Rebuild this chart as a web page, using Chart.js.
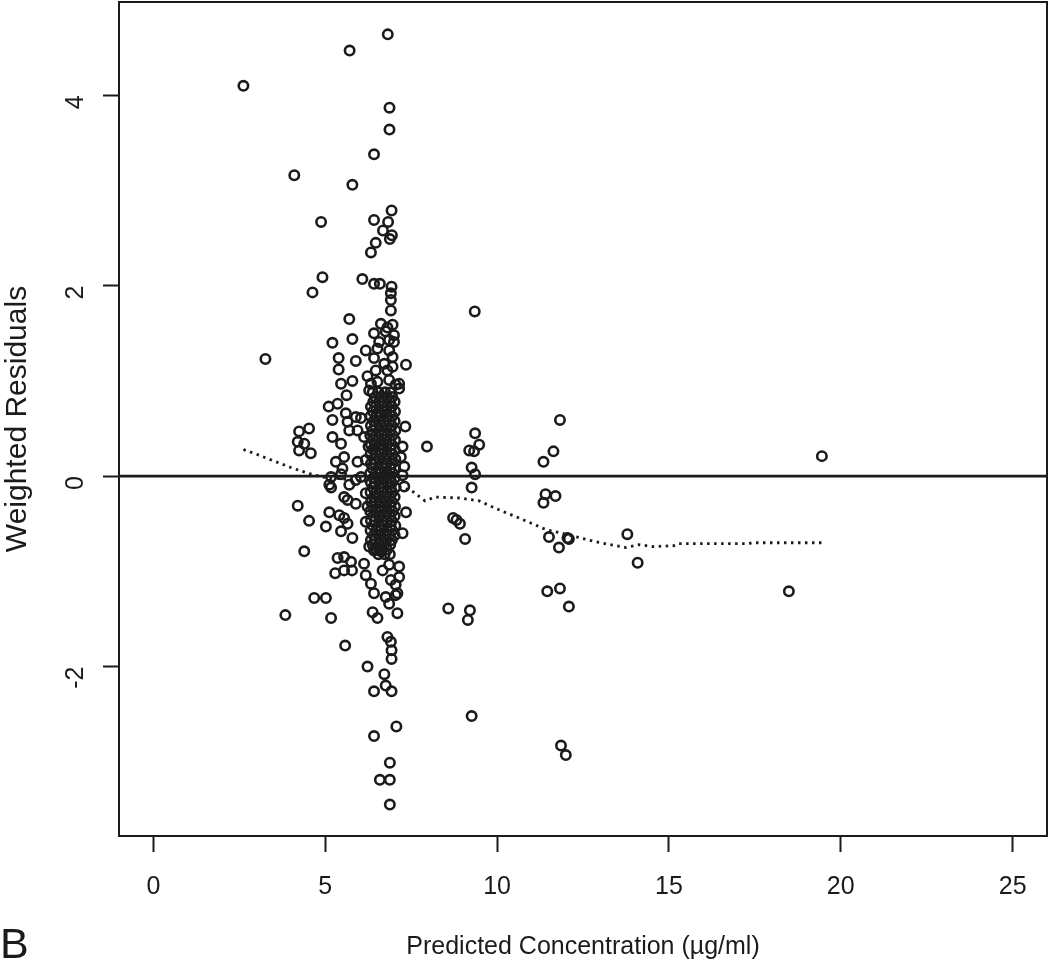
<!DOCTYPE html>
<html>
<head>
<meta charset="utf-8">
<script src="https://cdn.jsdelivr.net/npm/chart.js@4.4.1/dist/chart.umd.min.js"></script>
<style>
  html, body { margin: 0; padding: 0; background: #fff; }
  #wrap { width: 1050px; height: 966px; position: relative; }
</style>
</head>
<body>
<div id="wrap"><canvas id="c" width="1050" height="966"></canvas></div>
<script>
// ---- Data ----
const xTickValues = [0, 5, 10, 15, 20, 25];
const yTickValues = [-2, 0, 2, 4];
const xTitle = 'Predicted Concentration (µg/ml)';
const yTitle = 'Weighted Residuals';
const panelLabel = 'B';

// points above ~1
const upperPoints = [
  [6.82,4.64],[5.71,4.47],[2.62,4.10],[6.87,3.87],[6.87,3.64],[6.42,3.38],[4.10,3.16],[5.79,3.06],
  [6.93,2.79],[4.88,2.67],[6.42,2.69],[6.83,2.67],[6.68,2.58],[6.94,2.53],[6.88,2.49],[6.47,2.45],
  [6.33,2.35],[4.92,2.09],[6.08,2.07],[4.63,1.93],[6.42,2.02],[6.59,2.02],[6.93,1.99],[6.91,1.92],
  [6.91,1.85],[6.91,1.74],[9.35,1.73],[5.70,1.65],[6.62,1.60],[6.81,1.56],[6.96,1.59],[6.42,1.50],
  [6.76,1.52],[7.00,1.48],[5.21,1.40],[5.79,1.44],[6.57,1.41],[6.86,1.43],[7.00,1.41],[6.18,1.32],
  [6.52,1.34],[6.86,1.32],[3.26,1.23],[5.39,1.24],[5.89,1.21],[6.42,1.24],[6.96,1.25],[6.72,1.18],
  [5.39,1.12],[7.35,1.17],[6.23,1.05],[6.47,1.11],[6.81,1.11],[6.96,1.15]
];
// points between about -1 and 1 around the main column
const midPoints = [
  [5.46,0.97],[5.79,1.00],[6.33,0.97],[6.52,0.99],[6.86,1.01],[7.05,0.96],[7.15,0.97],[5.62,0.85],
  [6.28,0.90],[7.15,0.92],[5.10,0.73],[5.36,0.76],[5.21,0.59],[5.60,0.66],[5.89,0.62],[6.04,0.61],
  [5.65,0.57],[5.70,0.48],[5.94,0.48],[7.33,0.52],[4.24,0.47],[4.53,0.50],[5.21,0.41],[5.46,0.34],
  [4.20,0.36],[4.39,0.34],[4.24,0.27],[4.58,0.24],[7.96,0.31],[5.31,0.15],[5.55,0.20],[5.94,0.15],
  [7.25,0.31],[7.20,0.20],[7.30,0.10],[6.13,0.41],[6.26,0.31],[6.18,0.17],[5.50,0.08],[5.17,-0.01],
  [5.12,-0.09],[5.17,-0.12],[5.46,0.02],[5.70,-0.09],[5.89,-0.04],[6.04,-0.01],[7.25,0.01],[7.30,-0.11],
  [6.18,-0.18],[6.23,-0.32],[6.18,-0.48],[4.20,-0.31],[4.53,-0.47],[5.02,-0.53],[5.12,-0.38],[5.41,-0.41],
  [5.55,-0.22],[5.65,-0.25],[5.89,-0.29],[5.55,-0.44],[5.65,-0.50],[5.46,-0.58],[5.79,-0.65],[7.35,-0.38],
  [7.25,-0.60],[4.39,-0.79],[5.36,-0.86],[5.55,-0.85],[5.75,-0.90],[5.29,-1.02],[5.55,-0.99],[5.78,-0.99],
  [6.13,-0.92],[6.18,-1.04],[6.33,-1.13],[6.28,-0.74],[6.42,-0.78],[6.62,-0.79],[6.86,-0.93],[7.15,-0.95],
  [7.15,-1.06],[6.91,-1.09],[7.05,-1.14],[6.67,-0.99]
];
// dense column: each row = [residual, concentrations...]
const coreRows = [
  [0.88, 6.38, 6.55, 6.74, 6.90],
  [0.83, 6.46, 6.63, 6.80, 6.95],
  [0.78, 6.40, 6.57, 6.72, 6.88, 7.02],
  [0.73, 6.33, 6.47, 6.64, 6.79, 6.94],
  [0.68, 6.39, 6.56, 6.73, 6.89, 7.03],
  [0.63, 6.32, 6.48, 6.62, 6.80, 6.95],
  [0.58, 6.41, 6.55, 6.71, 6.87, 7.02],
  [0.53, 6.33, 6.46, 6.63, 6.78, 6.94],
  [0.48, 6.38, 6.57, 6.72, 6.89, 7.04],
  [0.43, 6.31, 6.47, 6.64, 6.80, 6.96],
  [0.38, 6.40, 6.55, 6.73, 6.88, 7.03],
  [0.33, 6.33, 6.45, 6.62, 6.79, 6.94],
  [0.28, 6.39, 6.56, 6.71, 6.90, 7.02],
  [0.23, 6.32, 6.48, 6.63, 6.80, 6.95],
  [0.18, 6.41, 6.57, 6.73, 6.87, 7.04],
  [0.13, 6.33, 6.46, 6.64, 6.78, 6.94],
  [0.08, 6.38, 6.55, 6.72, 6.89, 7.02],
  [0.03, 6.31, 6.47, 6.62, 6.80, 6.96],
  [-0.02, 6.40, 6.56, 6.73, 6.88, 7.03],
  [-0.07, 6.33, 6.45, 6.63, 6.79, 6.94],
  [-0.12, 6.39, 6.57, 6.71, 6.90, 7.04],
  [-0.17, 6.32, 6.48, 6.64, 6.80, 6.95],
  [-0.22, 6.41, 6.55, 6.73, 6.87, 7.02],
  [-0.27, 6.33, 6.46, 6.62, 6.78, 6.94],
  [-0.32, 6.38, 6.56, 6.72, 6.89, 7.03],
  [-0.37, 6.31, 6.47, 6.63, 6.80, 6.96],
  [-0.42, 6.40, 6.57, 6.73, 6.88, 7.02],
  [-0.47, 6.33, 6.45, 6.64, 6.79, 6.94],
  [-0.52, 6.39, 6.55, 6.71, 6.90, 7.04],
  [-0.57, 6.32, 6.48, 6.62, 6.80, 6.95],
  [-0.62, 6.41, 6.56, 6.73, 6.87, 7.02],
  [-0.67, 6.33, 6.46, 6.63, 6.78, 6.94],
  [-0.72, 6.38, 6.57, 6.72, 6.89],
  [-0.77, 6.47, 6.64, 6.80],
  [-0.82, 6.55, 6.73, 6.88]
];
// points below about -1.1
const lowerPoints = [
  [6.42,-1.23],[6.76,-1.27],[7.05,-1.25],[6.86,-1.34],[7.10,-1.23],[4.68,-1.28],[5.02,-1.28],[3.84,-1.46],
  [5.17,-1.49],[6.38,-1.43],[6.52,-1.49],[7.10,-1.44],[5.58,-1.78],[6.81,-1.69],[6.91,-1.74],[6.93,-1.83],
  [6.93,-1.92],[6.23,-2.00],[6.72,-2.08],[6.42,-2.26],[6.76,-2.20],[6.93,-2.26],[7.07,-2.63],[6.42,-2.73],
  [6.88,-3.01],[6.59,-3.19],[6.88,-3.19],[6.88,-3.45]
];
// points at higher concentrations
const rightPoints = [
  [9.36,0.45],[9.48,0.33],[9.19,0.27],[9.33,0.26],[9.26,0.09],[9.36,0.02],[9.26,-0.12],[11.83,0.59],
  [11.64,0.26],[11.35,0.15],[11.41,-0.19],[11.70,-0.21],[11.35,-0.28],[8.72,-0.44],[8.82,-0.46],[8.92,-0.50],
  [9.07,-0.66],[11.51,-0.64],[12.05,-0.65],[12.09,-0.66],[11.80,-0.75],[13.79,-0.61],[14.09,-0.91],[11.46,-1.21],
  [11.83,-1.18],[12.09,-1.37],[8.58,-1.39],[9.21,-1.41],[9.15,-1.51],[9.26,-2.52],[11.86,-2.83],[12.00,-2.93],
  [19.45,0.21],[18.49,-1.21]
];
// smoother (dotted line)
const smoothX = [2.62, 3.0, 3.5, 4.0, 4.5, 4.92, 5.5, 6.0, 6.5, 7.0, 7.5, 7.9, 8.2, 8.9, 9.48, 9.96, 10.64, 11.41, 12.0, 12.87, 13.74, 14.13, 14.52, 15.2, 15.29, 16.3, 17.33, 17.42, 18.5, 19.46];
const smoothY = [0.28, 0.23, 0.16, 0.09, 0.03, -0.01, -0.03, -0.05, -0.07, -0.10, -0.15, -0.26, -0.22, -0.23, -0.26, -0.34, -0.44, -0.56, -0.61, -0.69, -0.75, -0.72, -0.74, -0.73, -0.71, -0.71, -0.71, -0.70, -0.70, -0.70];
// reference line
const refLineY = 0;
const xRange = [-1, 26];
const yRange = [-3.78, 4.98];

// ---- Build datasets ----
const toXY = arr => arr.map(p => ({ x: p[0], y: p[1] }));
const corePts = [];
coreRows.forEach(r => { for (let i = 1; i < r.length; i++) corePts.push({ x: r[i], y: r[0] }); });
const allPts = [].concat(toXY(upperPoints), toXY(midPoints), corePts, toXY(lowerPoints), toXY(rightPoints));
const smoothPts = smoothX.map((x, i) => ({ x: x, y: smoothY[i] }));

const FONT = "'Liberation Sans', Arial, Helvetica, sans-serif";
const INK = '#1b1b1b';

const boxPlugin = {
  id: 'boxAndLabel',
  afterDraw(chart) {
    const { ctx, chartArea: a } = chart;
    ctx.save();
    ctx.strokeStyle = INK;
    ctx.lineWidth = 2;
    ctx.strokeRect(a.left, a.top, a.right - a.left, a.bottom - a.top);
    ctx.fillStyle = INK;
    ctx.font = '43px ' + FONT;
    ctx.textBaseline = 'alphabetic';
    ctx.textAlign = 'left';
    ctx.fillText(panelLabel, 0, 958);
    ctx.restore();
  }
};

new Chart(document.getElementById('c'), {
  type: 'scatter',
  data: {
    datasets: [
      {
        label: 'reference', type: 'line', data: [{ x: xRange[0], y: refLineY }, { x: xRange[1], y: refLineY }],
        borderColor: INK, borderWidth: 2.6, pointRadius: 0, order: 0
      },
      {
        label: 'smooth', type: 'line', data: smoothPts, borderColor: INK, borderWidth: 2.8,
        borderDash: [2.5, 4.5], pointRadius: 0, tension: 0, order: 0
      },
      {
        label: 'residuals', data: allPts, pointStyle: 'circle', pointRadius: 4.7,
        borderColor: INK, borderWidth: 2.6, backgroundColor: 'rgba(0,0,0,0)', order: 1
      }
    ]
  },
  options: {
    responsive: false,
    animation: false,
    events: [],
    layout: { autoPadding: false, padding: { top: 2, right: 3, left: 0, bottom: 0 } },
    plugins: { legend: { display: false }, tooltip: { enabled: false } },
    scales: {
      x: {
        type: 'linear', min: xRange[0], max: xRange[1],
        afterBuildTicks: s => { s.ticks = xTickValues.map(v => ({ value: v })); },
        afterFit: s => { s.height = 130; s.paddingLeft = 0; s.paddingRight = 0; },
        grid: { display: true, drawOnChartArea: false, drawTicks: true, tickLength: 16, tickWidth: 2, tickColor: INK },
        border: { display: true, color: INK, width: 2 },
        ticks: { color: INK, font: { family: FONT, size: 25 }, padding: 20, maxRotation: 0, autoSkip: false },
        title: { display: true, text: xTitle, color: INK, font: { family: FONT, size: 25 }, padding: { top: 0, bottom: 4 } }
      },
      y: {
        type: 'linear', min: yRange[0], max: yRange[1],
        afterBuildTicks: s => { s.ticks = yTickValues.map(v => ({ value: v })); },
        afterFit: s => { s.width = 119; s.paddingTop = 0; s.paddingBottom = 0; },
        grid: { display: true, drawOnChartArea: false, drawTicks: true, tickLength: 16, tickWidth: 2, tickColor: INK },
        border: { display: true, color: INK, width: 2 },
        ticks: { color: INK, font: { family: FONT, size: 25 }, padding: 27, minRotation: 90, maxRotation: 90, autoSkip: false },
        title: { display: true, text: yTitle, color: INK, font: { family: FONT, size: 30 }, padding: { top: 0, bottom: 0 } }
      }
    }
  },
  plugins: [boxPlugin]
});
</script>
</body>
</html>
